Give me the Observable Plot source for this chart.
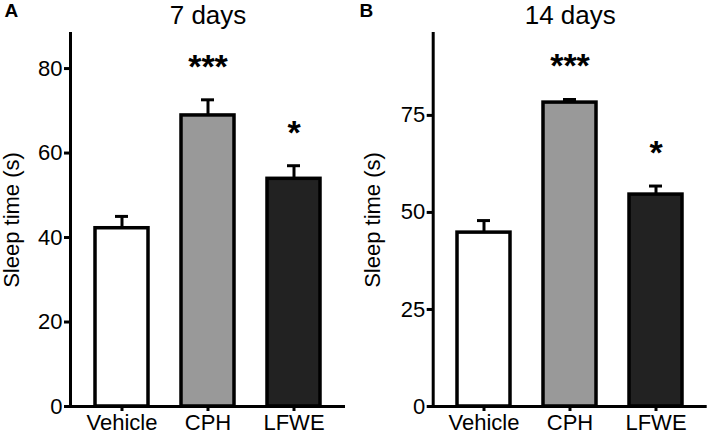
<!DOCTYPE html>
<html>
<head>
<meta charset="utf-8">
<script src="https://cdn.jsdelivr.net/npm/d3@7"></script>
<script src="https://cdn.jsdelivr.net/npm/@observablehq/plot@0.6"></script>
<style>
  body { margin: 0; background: #fff; font-family: "Liberation Sans", Arial, sans-serif; }
  #chart { display: flex; width: 709px; height: 434px; }
</style>
</head>
<body>
<div id="chart"></div>
<script>
// Treatment groups and bar fills
const groups = ["Vehicle", "CPH", "LFWE"];
const fills = ["#ffffff", "#999999", "#222222"];

// Sleep time (s), mean and SEM, after 7 days
const day7Mean = [42.2, 68.9, 53.9];
const day7Sem = [2.8, 3.7, 3.1];
const day7Stars = ["", "***", "*"];

// Sleep time (s), mean and SEM, after 14 days
const day14Mean = [44.8, 78.3, 54.6];
const day14Sem = [3.1, 0.8, 2.2];
const day14Stars = ["", "***", "*"];

// Y tick values per panel
const day7Ticks = [0, 20, 40, 60, 80];
const day14Ticks = [0, 25, 50, 75];

const font = "'Liberation Sans', Arial, sans-serif";

function panel({letter, title, means, sems, stars, yMax, yTicks, width, marginLeft, marginRight, labelOffset}) {
  const rows = groups.map((g, i) => ({
    group: g, mean: means[i], top: means[i] + sems[i], stars: stars[i], fill: fills[i]
  }));
  return Plot.plot({
    width, height: 434,
    marginTop: 33, marginBottom: 28, marginLeft, marginRight,
    style: {fontFamily: font, background: "white", overflow: "visible", color: "black"},
    x: {domain: groups, paddingInner: 0.387, paddingOuter: 0.283},
    y: {domain: [0, yMax]},
    color: {type: "identity"},
    marks: [
      // error bars (upper half only)
      Plot.ruleX(rows, {x: "group", y1: "mean", y2: "top", stroke: "black", strokeWidth: 3}),
      Plot.tickY(rows, {x: "group", y: "top", stroke: "black", strokeWidth: 3, insetLeft: 20, insetRight: 20}),
      Plot.barY(rows, {x: "group", y: "mean", fill: "fill", stroke: "black", strokeWidth: 3.5}),
      // significance markers
      Plot.text(rows, {x: "group", y: "top", text: "stars", dy: -33, fontSize: 34, fontWeight: "bold"}),
      // axes
      Plot.axisY({ticks: yTicks, tickSize: 6, tickPadding: 2, strokeWidth: 3, fontSize: 22,
                  label: "Sleep time (s)", labelAnchor: "center", labelArrow: "none", labelOffset}),
      Plot.axisX({tickSize: 5, tickPadding: 3, strokeWidth: 3, fontSize: 22, label: null}),
      Plot.frame({anchor: "left", strokeWidth: 3}),
      Plot.ruleY([0], {strokeWidth: 3}),
      // panel title and letter
      Plot.text([title], {frameAnchor: "top", dy: -10, lineAnchor: "bottom", fontSize: 26}),
      Plot.text([letter], {frameAnchor: "top-left", dx: 4 - marginLeft, dy: -30, lineAnchor: "top",
                           textAnchor: "start", fontSize: 19, fontWeight: "bold"})
    ]
  });
}

const chart = document.getElementById("chart");
chart.append(panel({
  letter: "A", title: "7 days", means: day7Mean, sems: day7Sem, stars: day7Stars,
  yMax: 88.3, yTicks: day7Ticks, width: 355, marginLeft: 70, marginRight: 10, labelOffset: 67
}));
chart.append(panel({
  letter: "B", title: "14 days", means: day14Mean, sems: day14Sem, stars: day14Stars,
  yMax: 96.1, yTicks: day14Ticks, width: 354, marginLeft: 77.7, marginRight: 2.3, labelOffset: 69
}));
</script>
</body>
</html>
